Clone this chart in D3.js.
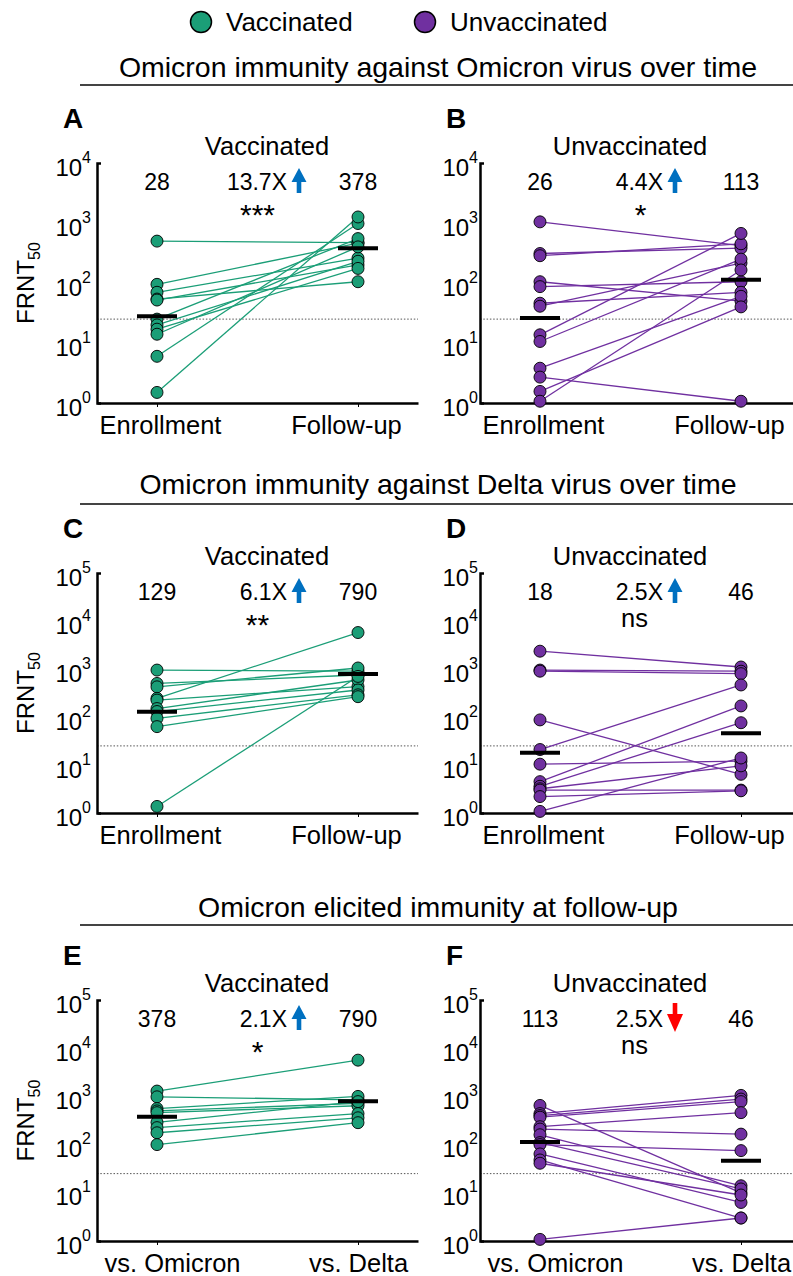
<!DOCTYPE html>
<html lang="en">
<head>
<meta charset="utf-8">
<title>Omicron immunity FRNT50</title>
<script src="https://d3js.org/d3.v7.min.js"></script>
<style>
  * { margin: 0; padding: 0; }
  body { background: #fff; font-family: "Liberation Sans", Arial, Helvetica, sans-serif; }
  svg { display: block; background: #fff; }
  .axis text { fill: #000; }
  .axis path, .axis line { stroke: #000; }
</style>
</head>
<body>
<div id="chart"></div>
<script>

// groups and colours
var groups = ["Vaccinated", "Unvaccinated"];
var groupColour = {"Vaccinated": "#1b9e77", "Unvaccinated": "#7030a0"};

// category labels on the x axis
var timeCats = ["Enrollment", "Follow-up"];
var virusCats = ["vs. Omicron", "vs. Delta"];

var sectionTitles = [
  "Omicron immunity against Omicron virus over time",
  "Omicron immunity against Delta virus over time",
  "Omicron elicited immunity at follow-up"
];

// A: vaccinated, Omicron virus
var aEnroll = [499, 95, 70, 54, 52, 25, 20, 17, 14, 6, 1.5];
var aFollow = [470, 460, 260, 105, 200, 550, 230, 175, 400, 980, 1260];
var gmA = [28, 378];

// B: unvaccinated, Omicron virus
var bEnroll = [1045, 310, 285, 105, 87, 46, 41, 13.7, 10.6, 3.8, 2.7, 1.56, 1.07];
var bFollow = [420, 380, 450, 50, 105, 70, 215, 670, 250, 60, 1.07, 40, 165];
var gmB = [26, 113];

// C: vaccinated, Delta virus
var cEnroll = [950, 500, 425, 245, 225, 150, 130, 94, 63, 1.37];
var cFollow = [900, 750, 1050, 5750, 430, 590, 365, 290, 265, 700];
var gmC = [129, 790];

// D: unvaccinated, Delta virus
var dEnroll = [2350, 950, 900, 87, 21, 10.4, 4.5, 3.6, 3.2, 3.0, 2.2, 1.08];
var dFollow = [1100, 900, 800, 6.4, 465, 12, 170, 76, 9.6, 3.0, 2.9, 14];
var gmD = [18, 46];

// E: vaccinated at follow-up, Omicron vs Delta
var eOmicron = [1290, 980, 560, 500, 460, 290, 225, 176, 100];
var eDelta = [5650, 850, 1000, 720, 640, 780, 440, 360, 285];
var gmE = [378, 790];

// F: unvaccinated at follow-up, Omicron vs Delta
var fOmicron = [650, 440, 400, 370, 235, 210, 160, 110, 100, 64, 48, 41, 1.08];
var fDelta = [10, 1050, 880, 780, 460, 165, 14, 12, 75, 6.3, 3, 9, 3];
var gmF = [113, 46];

var foldLabels = ["13.7X", "4.4X", "6.1X", "2.5X", "2.1X", "2.5X"];
var foldDirs = ["up", "up", "up", "up", "up", "down"];
var sigLabels = ["***", "*", "**", "ns", "*", "ns"];

var detectionLimit = 25;

//Width and height
var w = 793;
var h = 1276;

// rows: plot top/bottom pixel, top decade, section title placement
var rows = [
  {top: 163, bottom: 403, maxExp: 4, titleY: 77, ruleY: 85},
  {top: 573, bottom: 813, maxExp: 5, titleY: 494, ruleY: 504},
  {top: 1000, bottom: 1241, maxExp: 5, titleY: 917, ruleY: 925}
];
var cols = [
  {axisX: 97, labelPad: 6, subDx: 170, arrowDx: 202},
  {axisX: 480, labelPad: 2, subDx: 150, arrowDx: 195}
];
var plotW = 321;

// horizontal nudge of x tick labels (they sit off-centre in the original)
var labelShift = {"Enrollment": 3, "Follow-up": -12, "vs. Omicron": 15, "vs. Delta": 0};

var panels = [
  {letter: "A", row: 0, col: 0, group: "Vaccinated", cats: timeCats, v0: aEnroll, v1: aFollow, gm: gmA},
  {letter: "B", row: 0, col: 1, group: "Unvaccinated", cats: timeCats, v0: bEnroll, v1: bFollow, gm: gmB},
  {letter: "C", row: 1, col: 0, group: "Vaccinated", cats: timeCats, v0: cEnroll, v1: cFollow, gm: gmC},
  {letter: "D", row: 1, col: 1, group: "Unvaccinated", cats: timeCats, v0: dEnroll, v1: dFollow, gm: gmD},
  {letter: "E", row: 2, col: 0, group: "Vaccinated", cats: virusCats, v0: eOmicron, v1: eDelta, gm: gmE},
  {letter: "F", row: 2, col: 1, group: "Unvaccinated", cats: virusCats, v0: fOmicron, v1: fDelta, gm: gmF}
];
panels.forEach(function(p, i) {
  p.fold = foldLabels[i];
  p.dir = foldDirs[i];
  p.sig = sigLabels[i];
});

var font = "'Liberation Sans', Arial, Helvetica, sans-serif";

var svg = d3.select("#chart")
  .append("svg")
  .attr("width", w)
  .attr("height", h)
  .attr("font-family", font);

// legend
var legend = svg.append("g");
var legendX = [201, 425];
groups.forEach(function(gname, i) {
  legend.append("circle")
    .attr("cx", legendX[i]).attr("cy", 22).attr("r", 10.5)
    .attr("fill", groupColour[gname])
    .attr("stroke", "#000").attr("stroke-width", 1.5);
  legend.append("text")
    .attr("x", legendX[i] + 25).attr("y", 31)
    .attr("font-size", 26)
    .text(gname);
});

// section titles with rules
rows.forEach(function(r, i) {
  svg.append("text")
    .attr("x", 438).attr("y", r.titleY)
    .attr("text-anchor", "middle")
    .attr("font-size", 28.5)
    .text(sectionTitles[i]);
  svg.append("line")
    .attr("x1", 80).attr("x2", w)
    .attr("y1", r.ruleY).attr("y2", r.ruleY)
    .attr("stroke", "#444").attr("stroke-width", 2);
});

panels.forEach(drawPanel);

function drawPanel(p) {
  var r = rows[p.row];
  var c = cols[p.col];
  var ax = c.axisX;
  var colour = groupColour[p.group];
  var g = svg.append("g").attr("class", "panel");

  var x = d3.scalePoint()
    .domain(p.cats)
    .range([ax, ax + plotW])
    .padding(0.2985);

  var y = d3.scaleLog()
    .domain([1, Math.pow(10, r.maxExp)])
    .range([r.bottom, r.top]);

  // detection limit
  g.append("line")
    .attr("x1", ax).attr("x2", ax + plotW)
    .attr("y1", y(detectionLimit)).attr("y2", y(detectionLimit))
    .attr("stroke", "#555").attr("stroke-width", 1)
    .attr("stroke-dasharray", "1.5,1.8");

  // y axis
  var decades = d3.range(0, r.maxExp + 1).map(function(e) { return Math.pow(10, e); });
  var yAxis = d3.axisLeft(y)
    .tickValues(decades)
    .tickSizeInner(0)
    .tickSizeOuter(-4)
    .tickPadding(c.labelPad);
  var gy = g.append("g")
    .attr("class", "axis")
    .attr("transform", "translate(" + ax + ",0)")
    .call(yAxis)
    .attr("font-family", font);
  gy.select(".domain").attr("stroke-width", 2.5);
  gy.selectAll(".tick text").each(function(d) {
    var t = d3.select(this);
    var e = Math.round(Math.log10(d));
    t.text(null).attr("dy", null).attr("y", 12).attr("font-size", 24);
    t.append("tspan").text("10");
    t.append("tspan").attr("dy", -13).attr("font-size", 16).text(e);
  });

  // x axis
  var xAxis = d3.axisBottom(x)
    .tickSizeInner(4)
    .tickSizeOuter(0)
    .tickPadding(9);
  var gx = g.append("g")
    .attr("class", "axis")
    .attr("transform", "translate(0," + r.bottom + ")")
    .call(xAxis)
    .attr("font-family", font)
    .attr("font-size", 25.5);
  gx.select(".domain").attr("stroke-width", 2.5);
  gx.selectAll(".tick text").attr("dx", function(d) { return labelShift[d]; });

  // y axis title on left column
  if (p.col === 0) {
    var yl = g.append("text")
      .attr("transform", "translate(34," + ((r.top + r.bottom) / 2) + ") rotate(-90)")
      .attr("text-anchor", "middle")
      .attr("font-size", 24);
    yl.append("tspan").text("FRNT");
    yl.append("tspan").attr("dy", 6).attr("font-size", 16).text("50");
  }

  // paired lines
  var pairs = p.v0.map(function(v, i) { return [v, p.v1[i]]; });
  g.append("g")
    .selectAll("line")
    .data(pairs)
    .enter().append("line")
      .attr("x1", x(p.cats[0]))
      .attr("x2", x(p.cats[1]))
      .attr("y1", function(d) { return y(d[0]); })
      .attr("y2", function(d) { return y(d[1]); })
      .attr("stroke", colour)
      .attr("stroke-width", 1.3);

  // points
  var pts = [];
  p.v0.forEach(function(v) { pts.push({cat: p.cats[0], v: v}); });
  p.v1.forEach(function(v) { pts.push({cat: p.cats[1], v: v}); });
  g.append("g")
    .selectAll("circle")
    .data(pts)
    .enter().append("circle")
      .attr("cx", function(d) { return x(d.cat); })
      .attr("cy", function(d) { return y(d.v); })
      .attr("r", 6)
      .attr("fill", colour)
      .attr("stroke", "#000")
      .attr("stroke-width", 0.9);

  // geometric mean bars
  g.append("g")
    .selectAll("line")
    .data(p.gm)
    .enter().append("line")
      .attr("x1", function(d, i) { return x(p.cats[i]) - 20; })
      .attr("x2", function(d, i) { return x(p.cats[i]) + 20; })
      .attr("y1", function(d) { return y(d); })
      .attr("y2", function(d) { return y(d); })
      .attr("stroke", "#000")
      .attr("stroke-width", 4);

  // gm numbers
  g.append("g")
    .selectAll("text")
    .data(p.gm)
    .enter().append("text")
      .attr("x", function(d, i) { return x(p.cats[i]); })
      .attr("y", r.top + 27)
      .attr("text-anchor", "middle")
      .attr("font-size", 23)
      .text(function(d) { return d; });

  // panel letter and subtitle
  g.append("text")
    .attr("x", ax - 34).attr("y", r.top - 35)
    .attr("font-size", 28).attr("font-weight", "bold")
    .text(p.letter);
  g.append("text")
    .attr("x", ax + c.subDx).attr("y", r.top - 8)
    .attr("text-anchor", "middle")
    .attr("font-size", 25.5)
    .text(p.group);

  // fold change with arrow
  var arrowX = ax + c.arrowDx;
  g.append("text")
    .attr("x", arrowX - 12).attr("y", r.top + 27)
    .attr("text-anchor", "end")
    .attr("font-size", 23)
    .text(p.fold);
  var t = r.top, ap;
  if (p.dir === "up") {
    ap = [[0, 5], [7.5, 19], [2.3, 19], [2.3, 30], [-2.3, 30], [-2.3, 19], [-7.5, 19]];
  } else {
    ap = [[-2.3, 3], [2.3, 3], [2.3, 14], [8, 14], [0, 32], [-8, 14], [-2.3, 14]];
  }
  g.append("path")
    .attr("d", "M" + ap.map(function(q) { return (arrowX + q[0]) + "," + (t + q[1]); }).join("L") + "Z")
    .attr("fill", p.dir === "up" ? "#0070c0" : "#ff0000");

  // significance
  var mid = (x(p.cats[0]) + x(p.cats[1])) / 2;
  if (p.sig === "ns") {
    g.append("text")
      .attr("x", mid - 6).attr("y", r.top + 54)
      .attr("text-anchor", "middle")
      .attr("font-size", 25.5)
      .text(p.sig);
  } else {
    g.append("text")
      .attr("x", mid).attr("y", r.top + 62)
      .attr("text-anchor", "middle")
      .attr("font-size", 30)
      .text(p.sig);
  }
}

</script>
</body>
</html>
